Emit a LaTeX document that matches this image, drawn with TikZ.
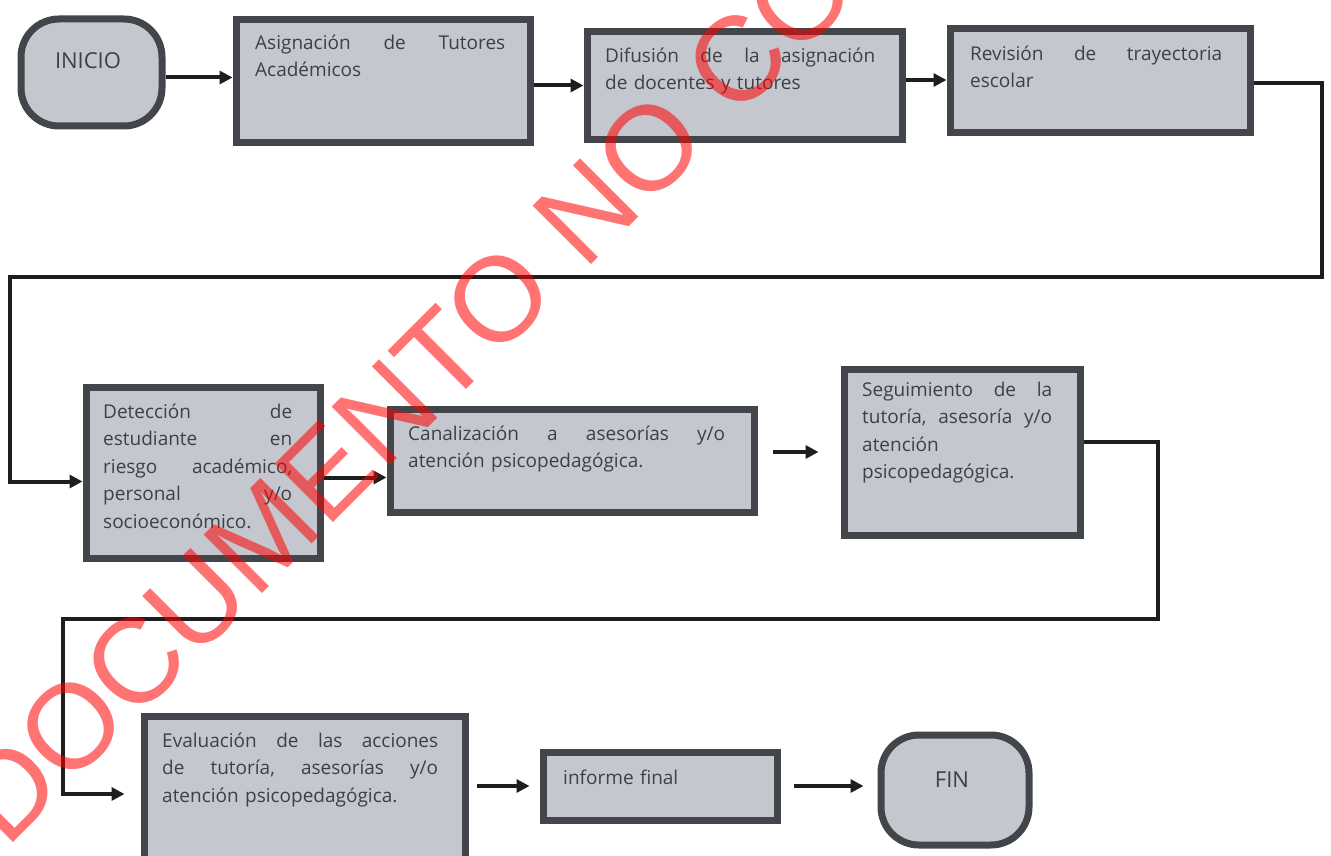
\documentclass[tikz,border=0pt]{standalone}
\usepackage{fontspec}
\setmainfont{Open Sans}
\newfontfamily\wmfont{Liberation Sans}
\usetikzlibrary{arrows.meta,calc}
\definecolor{boxfill}{RGB}{196,199,206}
\definecolor{boxline}{RGB}{66,69,73}
\definecolor{txt}{RGB}{62,64,69}
\definecolor{wline}{RGB}{30,30,30}
\begin{document}
\begin{tikzpicture}[x=1pt,y=-1pt,
  procbox/.style={draw=boxline, line width=7pt, fill=boxfill, inner sep=0pt, anchor=north west},
  termbox/.style={procbox, rounded corners=38pt},
  lbl/.style={inner sep=0pt, anchor=north west, align=left, text=txt, font=\fontsize{19}{27.5}\selectfont},
  termtxt/.style={inner sep=0pt, text=txt, font=\fontsize{22}{26}\selectfont},
  arr/.style={draw=wline, line width=4pt, -{Triangle[length=13pt,width=13pt]}},
  conn/.style={draw=wline, line width=4pt}
]
\useasboundingbox (0,0) rectangle (1331,856);
\fill[white] (0,0) rectangle (1331,856);

% boxes
\node[termbox, minimum width=141pt, minimum height=107pt] (ini) at (17.5,15.5) {};
\node[procbox, minimum width=294pt, minimum height=123pt] (b1) at (232.5,16.5) {};
\node[procbox, minimum width=315pt, minimum height=108pt] (b2) at (583.5,28.5) {};
\node[procbox, minimum width=300pt, minimum height=104pt] (b3) at (946.5,25.5) {};
\node[procbox, minimum width=234pt, minimum height=171pt] (b4) at (82.5,383.5) {};
\node[procbox, minimum width=364pt, minimum height=103pt] (b5) at (386.5,405.5) {};
\node[procbox, minimum width=236pt, minimum height=166pt] (b6) at (840.5,365.5) {};
\node[procbox, minimum width=321pt, minimum height=160pt] (b7) at (140.5,712.5) {};
\node[procbox, minimum width=234pt, minimum height=68pt] (b8) at (539.5,748.5) {};
\node[termbox, minimum width=148pt, minimum height=110pt] (fin) at (877.5,731.5) {};

% texts
\node[termtxt] (tini) at (88,61) {INICIO};
\node[termtxt] (tfin) at (952,780) {FIN};
\node[lbl, text width=250pt] (t1) at (255,33) {\rule{0pt}{16pt}Asignación\hfill de\hfill Tutores\\\mbox{Académicos}};
\node[lbl, text width=270pt] (t2) at (605,46) {\rule{0pt}{16pt}Difusión\hfill de\hfill la\hfill asignación\\\mbox{de docentes y tutores}};
\node[lbl, text width=252pt] (t3) at (970,44) {\rule{0pt}{16pt}Revisión\hfill de\hfill trayectoria\\\mbox{escolar}};
\node[lbl, text width=189pt] (t4) at (103,402) {\rule{0pt}{16pt}Detección\hfill de\\estudiante\hfill en\\riesgo\hfill académico,\\personal\hfill y/o\\\mbox{socioeconómico.}};
\node[lbl, text width=317pt] (t5) at (408,424) {\rule{0pt}{16pt}Canalización\hfill a\hfill asesorías\hfill y/o\\\mbox{atención psicopedagógica.}};
\node[lbl, text width=190pt] (t6) at (862,380) {\rule{0pt}{16pt}Seguimiento\hfill de\hfill la\\tutoría,\hfill asesoría\hfill y/o\\\mbox{atención}\\\mbox{psicopedagógica.}};
\node[lbl, text width=276pt] (t7) at (162,731) {\rule{0pt}{16pt}Evaluación\hfill de\hfill las\hfill acciones\\de\hfill tutoría,\hfill asesorías\hfill y/o\\\mbox{atención psicopedagógica.}};
\node[lbl, text width=200pt] (t8) at (563,768) {\rule{0pt}{16pt}\mbox{informe final}};

% connectors
\draw[arr] ([yshift=-5pt]ini.east) -- ([yshift=-5pt]ini.east -| b1.west);
\draw[arr] ([yshift=-4pt]b1.east) -- ([yshift=-4pt]b1.east -| b2.west);
\draw[arr] ([yshift=6pt]b2.east) -- ([yshift=6pt]b2.east -| b3.west);
\coordinate (c1) at (1322,83);
\coordinate (c2) at (10,277);
\draw[conn, -{Triangle[length=13pt,width=13pt]}] (b3.east |- c1) -- (c1) |- (c2) |- ([yshift=-9pt]b4.west);
\draw[arr] ([yshift=-5pt]b4.east) -- ([yshift=-5pt]b4.east -| b5.west);
\draw[arr, shorten <=15pt, shorten >=22pt] (b5.east |- b6.west) -- (b6.west);
\coordinate (c3) at (1158,442);
\coordinate (c4) at (63,619);
\coordinate (c5) at (0,794);
\draw[conn, -{Triangle[length=13pt,width=13pt]}, shorten >=16pt] (b6.east |- c3) -- (c3) |- (c4) |- (b7.west |- c5);
\draw[arr, shorten <=8pt, shorten >=10pt] (b7.east |- b8.west) -- (b8.west);
\draw[arr, shorten <=13pt, shorten >=14pt] (b8.east) -- (b8.east -| fin.west);

% watermark
\node[inner sep=0pt, anchor=base west, rotate=45, text=red, opacity=0.55,
      font=\wmfont\fontsize{120}{120}\selectfont] (wm) at (6,850) {DOCUMENTO NO CO};
\end{tikzpicture}
\end{document}
